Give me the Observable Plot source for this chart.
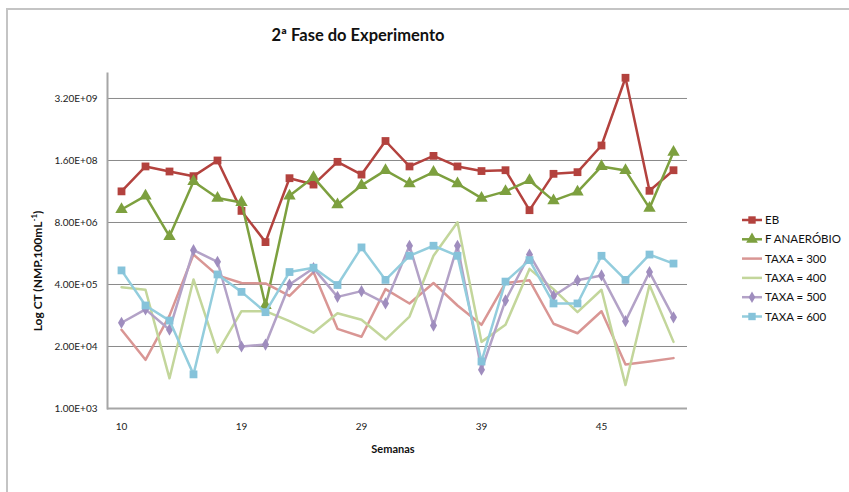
<!DOCTYPE html>
<html><head><meta charset="utf-8">
<script src="https://cdn.jsdelivr.net/npm/d3@7"></script>
<script src="https://cdn.jsdelivr.net/npm/@observablehq/plot@0.6"></script>
<style>
body{margin:0;background:#fff;font-family:Lato,"Open Sans",sans-serif;}
#wrap{position:relative;width:849px;height:492px;overflow:hidden;background:#fff;}
#frame{position:absolute;left:6px;top:8px;width:900px;height:600px;border:2px solid #c4c4c4;box-sizing:border-box;}
#chart{position:absolute;left:0;top:0;}
#title{position:absolute;left:208px;width:300px;top:25px;text-align:center;font-weight:bold;font-size:16.5px;color:#111;}
#ytitle{position:absolute;left:-66px;width:200px;top:264px;height:14px;line-height:14px;text-align:center;font-weight:bold;font-size:12px;color:#111;transform:rotate(-90deg);}
#xtitle{position:absolute;left:343px;width:100px;top:442px;text-align:center;font-weight:bold;font-size:11px;color:#111;}
#legend{position:absolute;left:738px;top:208px;}
</style>
</head><body>
<div id="wrap">
  <div id="frame"></div>
  <div id="chart"></div>
  <div id="title">2ª Fase do Experimento</div>
  <div id="ytitle">Log CT (NMP.100mL<sup style="font-size:8px">-1</sup>)</div>
  <div id="xtitle">Semanas</div>
  <div id="legend"></div>
</div>
<script>
// ---- data ----
const weeks = ["10","12","13","15","17","19","21","23","25","27","29","31","33","35","37","39","40","41","42","43","45","46","47","48"];
const weekTicks = ["10","19","29","39","45"];
const yTicks = [1e3, 2e4, 4e5, 8e6, 1.6e8, 3.2e9];
const seriesNames = ["EB","F ANAERÓBIO","TAXA = 300","TAXA = 400","TAXA = 500","TAXA = 600"];
const eb = [3.6e7,1.2e8,9.4e7,7.5e7,1.6e8,1.4e7,3.1e6,6.8e7,5.0e7,1.5e8,8.1e7,4.1e8,1.2e8,2.0e8,1.2e8,9.6e7,1.0e8,1.45e7,8.4e7,9.1e7,3.3e8,8.7e9,3.7e7,1.0e8];
const fAnaerobio = [1.5e7,2.9e7,4.1e6,5.8e7,2.6e7,2.1e7,1.45e5,2.9e7,7.1e7,1.9e7,4.8e7,9.9e7,5.2e7,9.1e7,5.2e7,2.6e7,3.6e7,6.1e7,2.3e7,3.5e7,1.2e8,9.9e7,1.6e7,2.4e8];
const taxa300 = [4.5e4,1.05e4,8.9e4,1.7e6,6.2e5,4.3e5,4.2e5,2.3e5,7.3e5,4.7e4,3.2e4,3.2e5,1.6e5,4.3e5,1.45e5,5.7e4,4.3e5,4.9e5,6.0e4,3.8e4,1.1e5,8.4e3,9.7e3,1.14e4];
const taxa400 = [3.5e5,3.1e5,4.3e3,5.1e5,1.5e4,1.1e5,1.1e5,6.8e4,3.9e4,1.0e5,7.3e4,2.8e4,8.5e4,1.6e6,8.1e6,2.5e4,5.7e4,8.5e5,3.2e5,1.05e5,3.1e5,3.1e3,3.9e5,2.5e4];
const taxa500 = [6.3e4,1.2e5,4.5e4,2.1e6,1.2e6,2.0e4,2.2e4,4.0e5,8.8e5,2.2e5,2.9e5,1.6e5,2.6e6,5.5e4,2.6e6,6.5e3,1.85e5,1.7e6,2.3e5,4.9e5,6.2e5,6.8e4,7.3e5,8.2e4];
const taxa600 = [7.9e5,1.45e5,7.0e4,5.2e3,6.5e5,2.8e5,1.05e5,7.3e5,9.0e5,3.9e5,2.4e6,5.0e5,1.6e6,2.6e6,1.6e6,9.7e3,4.6e5,1.3e6,1.6e5,1.6e5,1.6e6,5.0e5,1.7e6,1.1e6];

// ---- styles ----
const styles = [
  {line:"#B3423E", fill:"#B3423E", symbol:"square", r:4.4},
  {line:"#7DA03F", fill:"#7DA03F", symbol:"triangle", r:4.6},
  {line:"#D99694", fill:null, symbol:null},
  {line:"#C3D69B", fill:null, symbol:null},
  {line:"#B3A2C7", fill:"#9F8DBE", symbol:"diamond", r:3.7},
  {line:"#93CDDD", fill:"#86C3DA", symbol:"square", r:4.4}
];
const allValues = [eb, fAnaerobio, taxa300, taxa400, taxa500, taxa600];
const rows = [];
allValues.forEach((vals, s) => vals.forEach((v, i) => rows.push({series: seriesNames[s], week: weeks[i], value: v})));

const fmt = v => {
  const [m, e] = v.toExponential(2).split("e");
  const n = +e;
  return m + "E" + (n < 0 ? "-" : "+") + String(Math.abs(n)).padStart(2, "0");
};

const marks = [
  Plot.ruleY(yTicks.slice(1), {stroke:"#8a8a8a", strokeWidth:1}),
  Plot.ruleY([yTicks[0]], {stroke:"#a6a6a6", strokeWidth:2}),
  Plot.frame({anchor:"left", stroke:"#a6a6a6", strokeWidth:2}),
  Plot.text(yTicks, {y: d => d, text: fmt, frameAnchor: "left", dx: -10, textAnchor: "end", fontSize: 10, fill: "#222"}),
  Plot.axisX({ticks: weekTicks, tickSize: 0, tickPadding: 14, fontSize: 10, color:"#222", label: null})
];
seriesNames.forEach((name, s) => {
  const st = styles[s];
  const data = rows.filter(d => d.series === name);
  marks.push(Plot.line(data, {x:"week", y:"value", stroke: st.line, strokeWidth: 2.5}));
  if (st.symbol) marks.push(Plot.dot(data, {x:"week", y:"value", symbol: st.symbol, fill: st.fill, stroke: "none", r: st.r}));
});

const chart = Plot.plot({
  width: 849, height: 492,
  marginLeft: 107, marginRight: 162, marginTop: 73, marginBottom: 84,
  style: {background: "transparent", fontFamily: "Lato, 'Open Sans', sans-serif"},
  x: {type: "point", domain: weeks, padding: 0.5},
  y: {type: "log", domain: [1e3, 1.07e10], axis: null},
  marks
});
document.getElementById("chart").appendChild(chart);

// ---- legend ----
const lg = d3.select("#legend").append("svg").attr("width", 111).attr("height", 120)
  .style("font-family", "Lato, 'Open Sans', sans-serif").style("font-size", "11.5px");
const symMap = {square: d3.symbolSquare, triangle: d3.symbolTriangle, diamond: d3.symbolDiamond};
seriesNames.forEach((name, s) => {
  const st = styles[s];
  const g = lg.append("g").attr("transform", `translate(0,${12 + s * 19.3})`);
  g.append("line").attr("x1", 4).attr("x2", 24).attr("stroke", st.line).attr("stroke-width", 2.5);
  if (st.symbol) g.append("path").attr("transform", "translate(14,0)")
    .attr("d", d3.symbol(symMap[st.symbol], Math.PI * st.r * st.r * 0.9)()).attr("fill", st.fill);
  g.append("text").attr("x", 27).attr("dy", "0.35em").attr("fill", "#111").text(name);
});
</script>
</body></html>
